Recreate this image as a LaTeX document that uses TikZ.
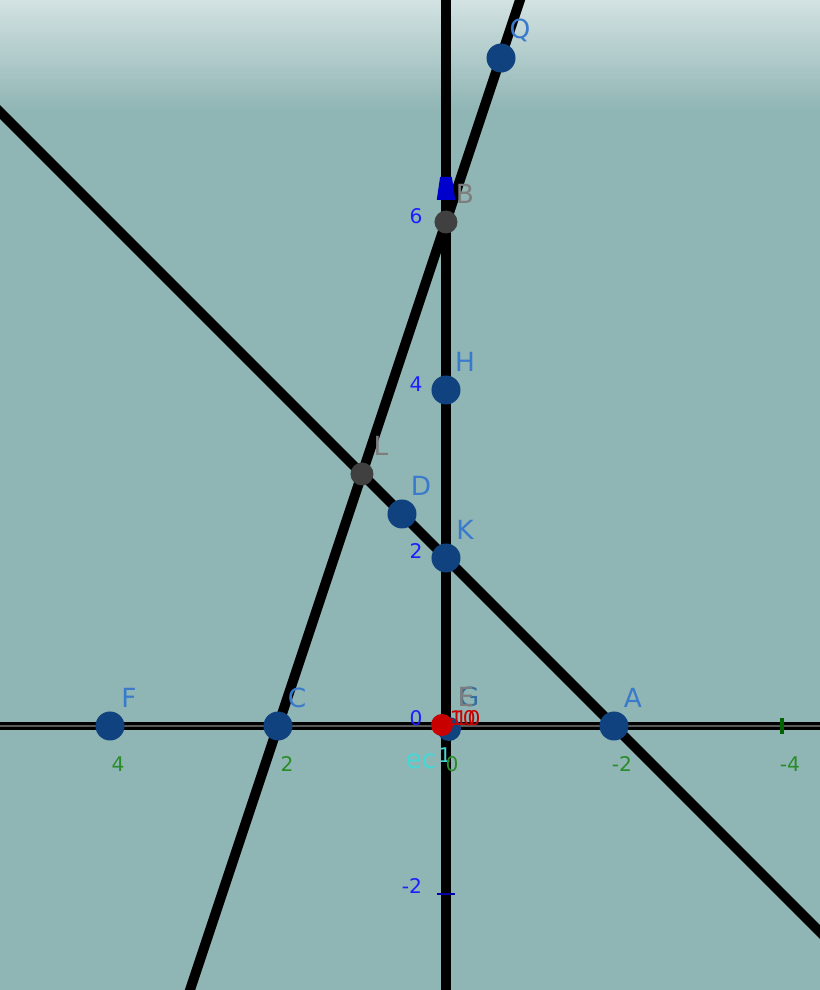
\documentclass[tikz,border=0pt]{standalone}
\usepackage{fontspec}
\setmainfont{DejaVu Sans}
\usetikzlibrary{calc}
\pgfdeclarelayer{back}
\pgfdeclarelayer{lines}
\pgfsetlayers{back,lines,main}
\definecolor{bgtop}{RGB}{214,228,228}
\definecolor{bgbot}{RGB}{143,181,180}
\definecolor{ptblue}{RGB}{16,66,128}
\definecolor{lblblue}{RGB}{58,122,204}
\definecolor{ptgray}{RGB}{64,64,64}
\definecolor{lblgray}{RGB}{125,125,125}
\definecolor{axblue}{RGB}{30,30,255}
\definecolor{axgreen}{RGB}{40,140,40}
\definecolor{tickgreen}{RGB}{0,100,0}
\definecolor{tickblue}{RGB}{0,0,170}
\definecolor{ptred}{RGB}{200,0,0}
\definecolor{lblcyan}{RGB}{70,215,215}
\definecolor{lblsteel}{RGB}{50,110,160}

\begin{document}
\begin{tikzpicture}[x={(-1.68cm,0)}, y={(0,1.68cm)},
  pt/.style={circle, fill=ptblue, inner sep=0pt, minimum size=0.58cm},
  gpt/.style={circle, fill=ptgray, inner sep=0pt, minimum size=0.46cm},
  lbl/.style={text=lblblue, font=\fontsize{15}{18}\selectfont, inner sep=0pt},
  ptlbl/.style={lbl, xshift=0.38cm, yshift=0.56cm},
  gptlbl/.style={ptlbl, text=lblgray},
  ynum/.style={text=axblue, font=\fontsize{11.5}{14}\selectfont, inner sep=0pt},
  xnum/.style={ynum, text=axgreen},
  ln/.style={line width=5.6pt, black},
  xaxis/.style={line width=1.6pt, black, double=gray!70!black, double distance=1.3pt}
]
\useasboundingbox (5.3095,-3.1429) rectangle (-4.4524,8.6429);

% points
\node[pt] (Q) at (-0.655,7.952) {};
\node[gpt] (B) at (0,6) {};
\node[pt] (H) at (0,4) {};
\node[gpt] (L) at (1,3) {};
\node[pt] (D) at (0.524,2.524) {};
\node[pt] (K) at (0,2) {};
\node[pt] (F) at (4,0) {};
\node[pt] (C) at (2,0) {};
\node[pt] (A) at (-2,0) {};
\node[pt, minimum size=0.48cm] (G) at (-0.036,-0.036) {};
\node[circle, fill=ptred, inner sep=0pt, minimum size=0.44cm] (E) at (0.048,0.012) {};

% point labels
\node[ptlbl] (Qlbl) at (Q) {Q};
\node[gptlbl] (Blbl) at (B) {B};
\node[ptlbl] (Hlbl) at (H) {H};
\node[gptlbl] (Llbl) at (L) {L};
\node[ptlbl] (Dlbl) at (D) {D};
\node[ptlbl] (Klbl) at (K) {K};
\node[ptlbl] (Flbl) at (F) {F};
\node[ptlbl] (Clbl) at (C) {C};
\node[ptlbl] (Albl) at (A) {A};
\node[lbl, text=lblsteel] (Glbl) at (-0.274,0.345) {G};
\node[lbl, text=lblgray] (Elbl) at (-0.238,0.345) {E};
\node[ynum, text=ptred, anchor=west] (m10) at (-0.012,0.095) {-10};
\node[ynum, text=ptred, anchor=east] (p10) at (-0.357,0.095) {10};
\node[lbl, text=lblcyan] (eclbl) at (0.298,-0.417) {ec};
\node[ynum, text=lblcyan] (onelbl) at (0.012,-0.345) {1};

% axis numbers
\node[ynum] (y6) at (0.357,6.071) {6};
\node[ynum] (y4) at (0.357,4.071) {4};
\node[ynum] (y2) at (0.357,2.083) {2};
\node[ynum] (y0) at (0.357,0.095) {0};
\node[ynum] (ym2) at (0.405,-1.905) {-2};
\node[xnum] (x4) at (3.905,-0.452) {4};
\node[xnum] (x2) at (1.893,-0.452) {2};
\node[xnum] (x0) at (-0.071,-0.452) {0};
\node[xnum] (xm2) at (-2.095,-0.452) {-2};
\node[xnum] (xm4) at (-4.095,-0.452) {-4};

\begin{pgfonlayer}{back}
\fill[bgbot] (5.4,-3.3) rectangle (-4.6,8.8);
\shade[top color=bgtop, bottom color=bgbot] (5.4,8.7) rectangle (-4.6,7.33);
\end{pgfonlayer}

\begin{pgfonlayer}{lines}
\coordinate (cbLow) at ($(C)!-0.56!(B)$);
\coordinate (cbHigh) at ($(C)!1.48!(B)$);
\coordinate (akLow) at ($(A)!-1.3!(K)$);
\coordinate (akHigh) at ($(A)!3.7!(K)$);
\coordinate (yBot) at (0,-3.3);
\coordinate (yTop) at (0,8.8);
\coordinate (xLeft) at (5.4,0);
\coordinate (xRight) at (-4.6,0);
\draw[ln] (cbLow) -- (cbHigh);
\draw[ln] (akLow) -- (akHigh);
\draw[ln] (yBot) -- (yTop);
\draw[xaxis] (xLeft) -- (xRight);
\fill[blue!80!black] (0.07,6.536) -- (-0.07,6.536) -- (-0.11,6.262) -- (0.11,6.262) -- cycle;
\draw[tickblue, line width=1.7pt] (0.107,-2) -- (-0.107,-2);
\draw[tickgreen, line width=2.3pt] (-4,0.095) -- (-4,-0.095);
\end{pgfonlayer}
\end{tikzpicture}
\end{document}
